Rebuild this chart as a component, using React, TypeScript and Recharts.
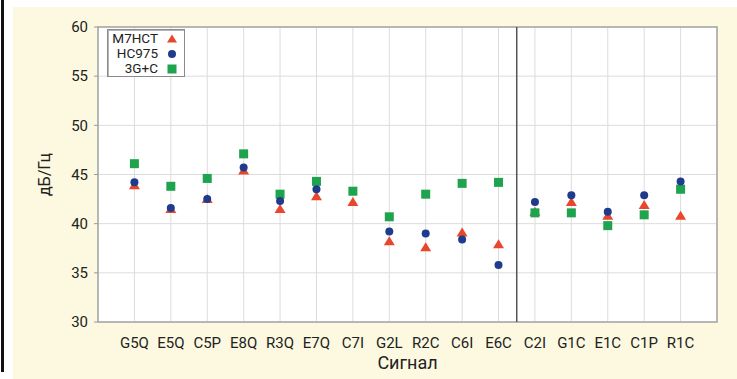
import React from 'react';
import { ScatterChart, Scatter, XAxis, YAxis, CartesianGrid, ReferenceLine, ReferenceArea } from 'recharts';

const categories = ['G5Q','E5Q','C5P','E8Q','R3Q','E7Q','C7I','G2L','R2C','C6I','E6C','C2I','G1C','E1C','C1P','R1C'];
const seriesNames = ['M7HCT', 'HC975', '3G+C'];
const m7hct = [43.9, 41.5, 42.5, 45.4, 41.5, 42.8, 42.2, 38.2, 37.6, 39.1, 37.9, 41.2, 42.2, 40.8, 41.9, 40.8];
const hc975: (number | null)[] = [44.2, 41.6, 42.5, 45.7, 42.3, 43.5, null, 39.2, 39.0, 38.4, 35.8, 42.2, 42.9, 41.2, 42.9, 44.3];
const g3c = [46.1, 43.8, 44.6, 47.1, 43.0, 44.3, 43.3, 40.7, 43.0, 44.1, 44.2, 41.1, 41.1, 39.8, 40.9, 43.5];
const yTicks = [30, 35, 40, 45, 50, 55, 60];
const dividerAt = 11.5;

const RED = '#e8472e';
const BLUE = '#1f3b8c';
const GREEN = '#1fa34f';
const FONT = "Roboto, 'Liberation Sans', Arial, sans-serif";

const toPoints = (arr: (number | null)[]) =>
  arr.map((v, i) => (v == null ? null : { x: i + 1, y: v })).filter(Boolean) as { x: number; y: number }[];

const Triangle = (p: any) => {
  const { cx, cy } = p;
  if (cx == null || cy == null) return <g />;
  return <polygon points={`${cx},${cy - 5} ${cx - 5.5},${cy + 4} ${cx + 5.5},${cy + 4}`} fill={RED} />;
};
const Dot = (p: any) => {
  const { cx, cy } = p;
  if (cx == null || cy == null) return <g />;
  return <circle cx={cx} cy={cy} r={4} fill={BLUE} />;
};
const Square = (p: any) => {
  const { cx, cy } = p;
  if (cx == null || cy == null) return <g />;
  return <rect x={cx - 4.5} y={cy - 4.5} width={9} height={9} fill={GREEN} />;
};

const LegendBox = () => {
  const markers = [
    <polygon key="t" points="5,0.5 0,8.5 10,8.5" fill={RED} />,
    <circle key="c" cx={5} cy={5} r={4} fill={BLUE} />,
    <rect key="s" x={0.5} y={0.5} width={9} height={9} fill={GREEN} />,
  ];
  return (
    <div style={{ position: 'absolute', left: 107, top: 29, background: '#fff', border: '1px solid #8a8a8a', boxShadow: 'inset 1px 1px 0 #b5b5b5', padding: '1px 0', width: 78, height: 48, boxSizing: 'border-box' }}>
      {seriesNames.map((n, i) => (
        <div key={n} style={{ display: 'flex', alignItems: 'center', justifyContent: 'flex-end', height: 15, paddingRight: 7 }}>
          <span style={{ fontFamily: FONT, fontSize: 13.5, color: '#222', lineHeight: '15px', marginRight: 9 }}>{n}</span>
          <svg width={10} height={10}>{markers[i]}</svg>
        </div>
      ))}
    </div>
  );
};

const YLabel = (props: any) => {
  const vb = props.viewBox || {};
  const x = vb.x + 6;
  const y = vb.y + vb.height / 2;
  return (
    <text x={x} y={y} transform={`rotate(-90, ${x}, ${y})`} textAnchor="middle" dominantBaseline="central" fontFamily={FONT} fontSize={16} fill="#222">
      дБ/Гц
    </text>
  );
};

export default function App() {
  return (
    <div style={{ position: 'absolute', left: 0, top: 0, width: 737, height: 379, background: '#fff', overflow: 'hidden' }}>
      <div style={{ position: 'absolute', left: 1, top: 0, width: 3, height: 372, background: '#111' }} />
      <div style={{ position: 'absolute', left: 13, top: 7, right: 0, bottom: 0, background: '#fdf9e0' }} />
      <div style={{ position: 'absolute', left: 0, top: 0 }}>
        <ScatterChart width={737} height={379} margin={{ top: 27, right: 20, left: 38, bottom: 37 }}>
          <CartesianGrid stroke="#dcdcdc" fill="#ffffff" />
          <XAxis
            type="number"
            dataKey="x"
            domain={[0, 17]}
            ticks={categories.map((_, i) => i + 1)}
            tickFormatter={(v: number) => categories[v - 1] ?? ''}
            interval={0}
            height={20}
            tickLine={false}
            axisLine={false}
            tickMargin={9}
            tick={{ fontFamily: FONT, fontSize: 15, fill: '#222' }}
            label={{ value: 'Сигнал', position: 'bottom', offset: 14, fontFamily: FONT, fontSize: 18, fill: '#222' }}
          />
          <YAxis
            type="number"
            dataKey="y"
            domain={[30, 60]}
            ticks={yTicks}
            width={60}
            tickSize={4}
            tickMargin={6}
            tickLine={{ stroke: '#999' }}
            axisLine={false}
            tick={{ fontFamily: FONT, fontSize: 15, fill: '#222' }}
            label={<YLabel />}
          />
          <ReferenceArea x1={0} x2={17} y1={30} y2={60} fill="none" stroke="#a5a5a5" strokeWidth={1.5} />
          <ReferenceLine x={dividerAt} stroke="#555" strokeWidth={1.5} />
          <Scatter name={seriesNames[0]} data={toPoints(m7hct)} shape={Triangle} isAnimationActive={false} />
          <Scatter name={seriesNames[2]} data={toPoints(g3c)} shape={Square} isAnimationActive={false} />
          <Scatter name={seriesNames[1]} data={toPoints(hc975)} shape={Dot} isAnimationActive={false} />
        </ScatterChart>
      </div>
      <LegendBox />
    </div>
  );
}
